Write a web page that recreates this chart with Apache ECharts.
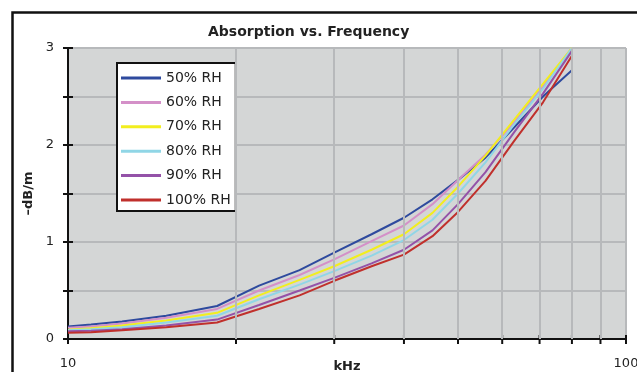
<!DOCTYPE html>
<html>
<head>
<meta charset="utf-8">
<script src="https://cdn.jsdelivr.net/npm/echarts@6/dist/echarts.min.js"></script>
<style>
html,body{margin:0;padding:0;background:#fff;}
#c{width:637px;height:372px;}
</style>
</head>
<body>
<div id="c"></div>
<script>
const freqKHz = [10, 11, 12.5, 15, 18.5, 22, 26, 30, 35, 40, 45, 50, 56, 63, 71, 80];
const rh50  = [0.13, 0.15, 0.18, 0.24, 0.34, 0.55, 0.71, 0.89, 1.08, 1.25, 1.44, 1.64, 1.87, 2.18, 2.50, 2.77];
const rh60  = [0.115, 0.13, 0.16, 0.22, 0.31, 0.50, 0.66, 0.82, 1.01, 1.17, 1.39, 1.64, 1.90, 2.23, 2.60, 3.00];
const rh70  = [0.095, 0.11, 0.14, 0.19, 0.27, 0.45, 0.61, 0.75, 0.92, 1.08, 1.30, 1.57, 1.89, 2.26, 2.63, 3.00];
const rh80  = [0.09, 0.10, 0.12, 0.17, 0.24, 0.41, 0.56, 0.70, 0.86, 1.02, 1.23, 1.50, 1.82, 2.21, 2.58, 3.00];
const rh90  = [0.08, 0.085, 0.10, 0.14, 0.20, 0.35, 0.50, 0.63, 0.78, 0.92, 1.12, 1.39, 1.72, 2.13, 2.53, 2.97];
const rh100 = [0.065, 0.07, 0.09, 0.12, 0.17, 0.31, 0.45, 0.60, 0.75, 0.87, 1.06, 1.31, 1.63, 2.04, 2.44, 2.92];
const seriesNames = ['50% RH', '60% RH', '70% RH', '80% RH', '90% RH', '100% RH'];
const seriesValues = [rh50, rh60, rh70, rh80, rh90, rh100];
const seriesColors = ['#2e4a9e', '#d490c8', '#f2ee1e', '#90d6e6', '#9452a8', '#c0302c'];
const xGridValues = [20, 30, 40, 50, 60, 70, 80, 90];
const xTickValues = [10, 20, 30, 40, 50, 60, 70, 80, 90, 100];
const titleText = 'Absorption vs. Frequency';
const xName = 'kHz';
const yName = '\u2013dB/m';

const FONT = 'DejaVu Sans';
const chart = echarts.init(document.getElementById('c'), null, {renderer: 'canvas'});

const lineSeries = seriesNames.map((name, i) => ({
  name: name,
  type: 'line',
  data: freqKHz.map((f, j) => [f, seriesValues[i][j]]),
  showSymbol: false,
  symbol: 'none',
  lineStyle: {width: 2, color: seriesColors[i]},
  itemStyle: {color: seriesColors[i]},
  z: 3,
  animation: false
}));

const gridSeries = {
  name: '_grid',
  type: 'line',
  data: [],
  z: 1,
  silent: true,
  animation: false,
  markLine: {
    silent: true,
    symbol: 'none',
    label: {show: false},
    animation: false,
    data: xGridValues.map(v => ({xAxis: v, lineStyle: {color: '#b7b9bb', width: 2, type: 'solid'}}))
  }
};

const tickSeries = {
  name: '_ticks',
  type: 'custom',
  data: xTickValues.map(v => [v, 0]),
  clip: false,
  silent: true,
  z: 4,
  animation: false,
  renderItem: function (params, api) {
    const p = api.coord([api.value(0), api.value(1)]);
    return {
      type: 'line',
      shape: {x1: p[0], y1: p[1] - 4, x2: p[0], y2: p[1] + 5},
      style: {stroke: '#111', lineWidth: 2}
    };
  }
};

const option = {
  animation: false,
  color: seriesColors,
  backgroundColor: '#ffffff',
  title: {
    text: titleText,
    left: 208, top: 25, padding: 0,
    textStyle: {fontFamily: FONT, fontSize: 14, fontWeight: 'bold', color: '#222'}
  },
  legend: {
    orient: 'vertical',
    left: 117, top: 63,
    padding: [7, 5, 3, 4],
    itemGap: 8.4,
    itemWidth: 40,
    itemHeight: 3,
    icon: 'rect',
    backgroundColor: '#ffffff',
    borderColor: '#111',
    borderWidth: 2,
    borderRadius: 0,
    data: seriesNames,
    textStyle: {fontFamily: FONT, fontSize: 14, color: '#222', lineHeight: 16}
  },
  grid: {
    left: 68, top: 48, right: 11, bottom: 33,
    outerBoundsMode: 'none', containLabel: false,
    show: true, backgroundColor: '#d4d6d6', borderWidth: 0
  },
  xAxis: [{
    type: 'log', logBase: 10, min: 10, max: 100,
    name: xName, nameLocation: 'middle', nameGap: 21, nameMoveOverlap: false,
    nameTextStyle: {fontFamily: FONT, fontSize: 13, fontWeight: 'bold', color: '#222',
      verticalAlign: 'top'},
    axisLine: {show: true, onZero: false, lineStyle: {color: '#111', width: 2}},
    axisTick: {show: false},
    axisLabel: {fontFamily: FONT, fontSize: 13, color: '#222', margin: 18},
    splitLine: {show: true, lineStyle: {color: '#b7b9bb', width: 2}}
  }],
  yAxis: [{
    type: 'value', min: 0, max: 3, interval: 0.5,
    name: yName, nameLocation: 'middle', nameGap: 32, nameRotate: 90,
    nameTextStyle: {fontFamily: FONT, fontSize: 13, fontWeight: 'bold', color: '#222'},
    axisLine: {show: true, lineStyle: {color: '#111', width: 2}},
    axisTick: {show: true, length: 5, inside: false, lineStyle: {color: '#111', width: 2}},
    axisLabel: {fontFamily: FONT, fontSize: 13, color: '#222', margin: 14,
      formatter: v => (Number.isInteger(v) ? String(v) : '')},
    splitLine: {show: true, lineStyle: {color: '#b7b9bb', width: 2}}
  }, {
    type: 'value', min: 0, max: 3, interval: 0.5, position: 'left', offset: 0,
    axisLine: {show: false},
    axisTick: {show: true, length: 5, inside: true, lineStyle: {color: '#111', width: 2}},
    axisLabel: {show: false},
    splitLine: {show: false}
  }],
  graphic: [{
    type: 'rect', left: 10, top: 10, z: 100, silent: true,
    shape: {x: 0, y: 0, width: 700, height: 500},
    style: {fill: null, stroke: '#111', lineWidth: 2.5}
  }],
  series: [gridSeries].concat(lineSeries).concat([tickSeries])
};
chart.setOption(option);
</script>
</body>
</html>
